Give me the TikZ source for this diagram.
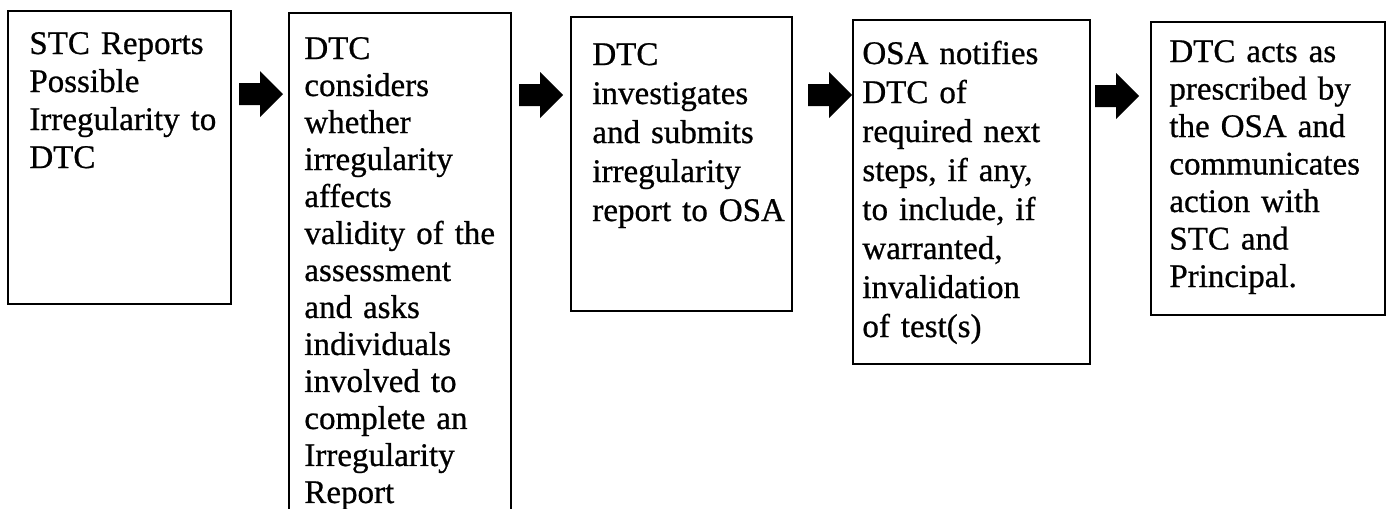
\documentclass[tikz,border=0pt]{standalone}
\usepackage{fontspec}
\setmainfont{Liberation Serif}[BoldFont=Liberation Serif, BoldFeatures={FakeBold=0.7}]
\tikzset{
  stepbox/.style={draw=black, line width=1.4pt, inner sep=0pt, outer sep=0pt, anchor=north west},
  steptext/.style={anchor=base west, inner sep=0pt, text width=112pt, align=left},
  blockarrowfill/.style={fill=black}
}
\newcommand\blockarrow[1]{\fill[blockarrowfill] (#1) ++(0,-11) -- ++(21,0) -- ++(0,-12) -- ++(23,23) -- ++(-23,23) -- ++(0,-12) -- ++(-21,0) -- cycle;}
\begin{document}
\begin{tikzpicture}[x=0.5pt, y=-0.5pt]
\fill[white] (0,0) rectangle (1389,509);
\useasboundingbox (0,0) rectangle (1389,509);
\clip (0,0) rectangle (1389,509);
% boxes
\node[stepbox, minimum width=111.5pt, minimum height=146.5pt] (b1) at (8,11) {};
\node[stepbox, minimum width=111pt, minimum height=263.5pt] (b2) at (289,13) {};
\node[stepbox, minimum width=110.5pt, minimum height=147pt] (b3) at (571,17) {};
\node[stepbox, minimum width=118.5pt, minimum height=172pt] (b4) at (853,20) {};
\node[stepbox, minimum width=117pt, minimum height=146.5pt] (b5) at (1151,22) {};
% texts
\node[steptext, font=\bfseries\fontsize{16.5}{19}\selectfont] (t1) at (29,54)
  {STC Reports\\Possible\\Irregularity to\\DTC};
\node[steptext, font=\bfseries\fontsize{16.5}{18.5}\selectfont] (t2) at (304,59)
  {DTC\\considers\\whether\\irregularity\\affects\\validity of the\\assessment\\and asks\\individuals\\involved to\\complete an\\Irregularity\\Report};
\node[steptext, font=\bfseries\fontsize{16.5}{19.5}\selectfont] (t3) at (592,65)
  {DTC\\investigates\\and submits\\irregularity\\report to OSA};
\node[steptext, font=\bfseries\fontsize{16.5}{19.5}\selectfont] (t4) at (862,64)
  {OSA notifies\\DTC of\\required next\\steps, if any,\\to include, if\\warranted,\\invalidation\\of test(s)};
\node[steptext, font=\bfseries\fontsize{16.5}{18.75}\selectfont] (t5) at (1169,62)
  {DTC acts as\\prescribed by\\the OSA and\\communicates\\action with\\STC and\\Principal.};
% arrows
\coordinate (a1) at (239,94);
\coordinate (a2) at (519,95);
\coordinate (a3) at (808,95);
\coordinate (a4) at (1095,96);
\blockarrow{a1}
\blockarrow{a2}
\blockarrow{a3}
\blockarrow{a4}
\end{tikzpicture}
\end{document}
